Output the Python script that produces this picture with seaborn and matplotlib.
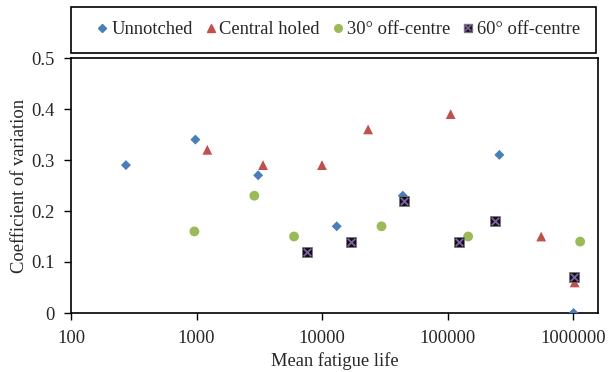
import matplotlib
matplotlib.use("Agg")
import matplotlib.pyplot as plt
import seaborn as sns
import pandas as pd
from matplotlib.lines import Line2D
from matplotlib.patches import Rectangle
from matplotlib.ticker import FixedLocator, FixedFormatter, NullLocator

# ---- data ----
unnotched_life = [274, 980, 3100, 13100, 44000, 259000, 1010000]
unnotched_cv = [0.29, 0.34, 0.27, 0.17, 0.23, 0.31, 0.0]

central_life = [1220, 3390, 10000, 23300, 106000, 558000, 1030000]
central_cv = [0.32, 0.29, 0.29, 0.36, 0.39, 0.15, 0.06]

off30_life = [962, 2890, 5990, 29800, 146000, 1140000]
off30_cv = [0.16, 0.23, 0.15, 0.17, 0.15, 0.14]

off60_life = [7580, 17000, 45300, 124000, 240000, 1020000]
off60_cv = [0.12, 0.14, 0.22, 0.14, 0.18, 0.07]

series_names = ["Unnotched", "Central holed", "30\u00b0 off-centre", "60\u00b0 off-centre"]
x_ticks = [100, 1000, 10000, 100000, 1000000]
x_tick_labels = ["100", "1000", "10000", "100000", "1000000"]
y_ticks = [0, 0.1, 0.2, 0.3, 0.4, 0.5]
y_tick_labels = ["0", "0.1", "0.2", "0.3", "0.4", "0.5"]

frames = []
for name, xs, ys in zip(series_names,
                        [unnotched_life, central_life, off30_life, off60_life],
                        [unnotched_cv, central_cv, off30_cv, off60_cv]):
    frames.append(pd.DataFrame({"life": xs, "cv": ys, "series": name}))
df = pd.concat(frames, ignore_index=True)

sns.set_theme(style="white")
plt.rcParams["font.family"] = ["Liberation Serif", "DejaVu Serif"]

W, H = 611, 372
fig = plt.figure(figsize=(W / 100, H / 100), dpi=100)
ax = fig.add_axes([71 / W, 1 - 313 / H, (598 - 71) / W, (313 - 58) / H])

blue = "#4A7EBB"
red = "#C0504D"
green = "#9BBB59"
purple = "#7E5FA8"

styles = {
    series_names[0]: dict(marker="D", color=blue, s=26),
    series_names[1]: dict(marker="^", color=red, s=50),
    series_names[2]: dict(marker="o", color=green, s=50),
    series_names[3]: dict(marker="s", color="#111111", s=48),
}
for name in series_names:
    sub = df[df["series"] == name]
    st = styles[name]
    sns.scatterplot(data=sub, x="life", y="cv", marker=st["marker"], color=st["color"],
                    s=st["s"], edgecolor="none" if name != series_names[3] else "#777777",
                    linewidth=0.5, ax=ax, legend=False, zorder=3)
sub = df[df["series"] == series_names[3]]
sns.scatterplot(data=sub, x="life", y="cv", marker="x", color=purple, s=30,
                linewidth=1.3, ax=ax, legend=False, zorder=4)

ax.set_xscale("log")
ax.set_xlim(100, 10 ** (6 + 25 / 125.5))
ax.set_ylim(0, 0.5)
ax.xaxis.set_major_locator(FixedLocator(x_ticks))
ax.xaxis.set_major_formatter(FixedFormatter(x_tick_labels))
ax.xaxis.set_minor_locator(NullLocator())
ax.yaxis.set_major_locator(FixedLocator(y_ticks))
ax.yaxis.set_major_formatter(FixedFormatter(y_tick_labels))

for sp in ax.spines.values():
    sp.set_visible(True)
    sp.set_color("black")
    sp.set_linewidth(1.2)
ax.tick_params(axis="both", which="major", direction="out", length=5, width=1,
               color="black", labelsize=13.3, bottom=True, left=True)
ax.tick_params(axis="y", pad=7)
ax.tick_params(axis="x", pad=7)
ax.set_xlabel("Mean fatigue life", fontsize=13.3, labelpad=4)
ax.set_ylabel("Coefficient of variation", fontsize=13.3, labelpad=2)

handles = [
    Line2D([], [], linestyle="none", marker="D", color=blue, markersize=4.5),
    Line2D([], [], linestyle="none", marker="^", color=red, markersize=6),
    Line2D([], [], linestyle="none", marker="o", color=green, markersize=5.5),
    (Line2D([], [], linestyle="none", marker="s", color="#111111", markeredgecolor="#777777", markersize=6),
     Line2D([], [], linestyle="none", marker="x", color=purple, markersize=4, markeredgewidth=1.2)),
]
leg = fig.legend(handles, series_names, loc="center", ncol=4,
                 bbox_to_anchor=((95 + 583) / 2 / W, 1 - 30 / H),
                 frameon=False, fontsize=13.3, handlelength=0.45,
                 handletextpad=0.25, columnspacing=0.75, borderaxespad=0,
                 borderpad=0)

fig.patches.append(Rectangle((71 / W, 1 - 53 / H), (596 - 71) / W, 46 / H,
                             transform=fig.transFigure, fill=False,
                             edgecolor="black", linewidth=1.2))

fig.savefig("out.png", dpi=100)
